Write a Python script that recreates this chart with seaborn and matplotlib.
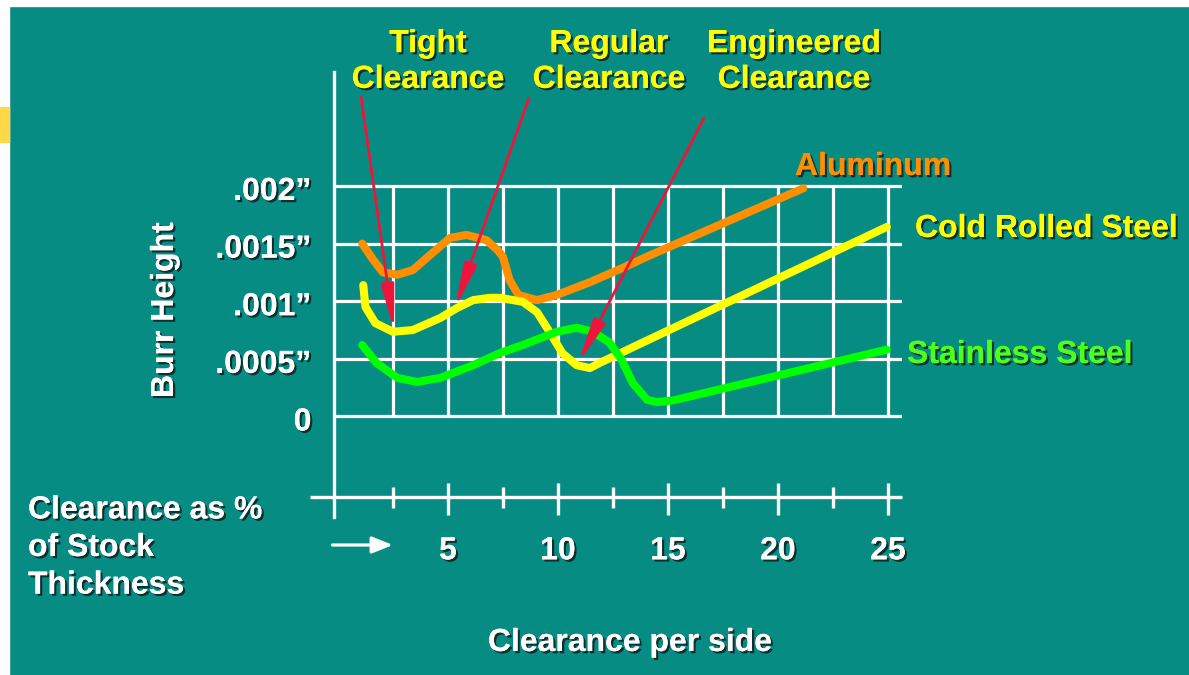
import numpy as np
import pandas as pd
import matplotlib
matplotlib.use("Agg")
import matplotlib.pyplot as plt
import matplotlib.transforms as mtransforms
from matplotlib import patheffects as pe
from matplotlib.patches import Rectangle
import seaborn as sns

# ---------------- data ----------------
al_x = [1.1, 1.6, 2.05, 2.7, 3.4, 4.3, 5.1, 5.85, 6.75, 7.25, 7.5, 7.8, 8.2, 9.05, 9.95, 11.45, 12.95, 14.2, 21.15]
al_y = [0.00150, 0.00136, 0.00125, 0.00123, 0.00127, 0.00142, 0.00155, 0.001575, 0.00153, 0.001445,
        0.001385, 0.001185, 0.001055, 0.00101, 0.001055, 0.001165, 0.00129, 0.00140, 0.00198]

crs_x = [1.15, 1.25, 1.7, 2.5, 3.4, 4.65, 5.4, 6.15, 6.9, 7.35, 8.4, 9.05, 9.65, 10.2, 10.85, 11.45, 11.9, 24.95]
crs_y = [0.00114, 0.00095, 0.00081, 0.000735, 0.00075, 0.000855, 0.00094, 0.00101, 0.00103, 0.00103,
         0.000995, 0.000905, 0.000725, 0.00055, 0.000445, 0.00042, 0.000465, 0.001645]

ss_x = [1.1, 1.75, 2.7, 3.6, 4.65, 6.15, 7.35, 8.4, 9.95, 10.85, 11.6, 12.35, 12.9, 13.4, 14.05, 14.5, 15.25, 24.95]
ss_y = [0.00062, 0.000465, 0.000335, 0.00030, 0.000335, 0.000445, 0.00055, 0.00062, 0.000735, 0.00077,
        0.000735, 0.00064, 0.00049, 0.00029, 0.000145, 0.000125, 0.00014, 0.00058]

materials = ["Aluminum", "Cold Rolled Steel", "Stainless Steel"]

y_ticks = [0, 0.0005, 0.001, 0.0015, 0.002]
y_tick_labels = ["0", ".0005\u201d", ".001\u201d", ".0015\u201d", ".002\u201d"]
x_grid = [2.5, 5, 7.5, 10, 12.5, 15, 17.5, 20, 22.5, 25]
x_major = [5, 10, 15, 20, 25]
x_minor = [2.5, 7.5, 12.5, 17.5, 22.5]
x_tick_labels = ["5", "10", "15", "20", "25"]

# arrows: (label, tail, tip)
arrow_labels = ["Tight\nClearance", "Regular\nClearance", "Engineered\nClearance"]
arrow_tails = [(1.05, 0.002772), (8.68, 0.002763), (16.64, 0.00259)]
arrow_tips = [(2.55, 0.000751), (5.32, 0.000941), (10.91, 0.000464)]

# ---------------- style ----------------
BG = "#078c84"
ORANGE = "#ff8f00"
YELLOW = "#ffff00"
GREEN = "#00ff00"
GREEN_TXT = "#4dff1a"
RED = "#f0143c"
WHITE = "white"

sns.set_style("white")
plt.rcParams["font.family"] = ["Liberation Sans", "DejaVu Sans"]
plt.rcParams["font.weight"] = "bold"

FS = 23
shadow = [pe.withSimplePatchShadow(offset=(1.6, -1.6), shadow_rgbFace="#102020", alpha=0.85), pe.Normal()]

W, H = 1189, 675
fig = plt.figure(figsize=(W / 100, H / 100), dpi=100, facecolor=BG)

# white frame strips like the reference screenshot
fig.patches.append(Rectangle((0, 1 - 6 / H), 1, 6 / H, transform=fig.transFigure, color="white", zorder=0))
fig.patches.append(Rectangle((0, 0), 9 / W, 1, transform=fig.transFigure, color="white", zorder=0))
fig.patches.append(Rectangle((0, 1 - 142 / H), 9 / W, 35 / H, transform=fig.transFigure, color="#ffd84a", zorder=1))

ax = fig.add_axes([334 / W, 1 - 517 / H, 568 / W, 445 / H])
ax.set_facecolor("none")
ax.set_xlim(-0.18, 25.64)
ax.set_ylim(-0.000872, 0.002989)
for s in ["top", "right", "bottom"]:
    ax.spines[s].set_visible(False)
ax.spines["left"].set_color(WHITE)
ax.spines["left"].set_linewidth(2.4)
ax.set_xticks([])
ax.set_yticks([])

# grid
for v in y_ticks:
    ax.axhline(v, color=WHITE, lw=2.3, zorder=1)
ax.vlines(x_grid, 0, 0.002, color=WHITE, lw=2.3, zorder=1)

# curves
df = pd.concat([
    pd.DataFrame({"x": al_x, "y": al_y, "material": materials[0]}),
    pd.DataFrame({"x": crs_x, "y": crs_y, "material": materials[1]}),
    pd.DataFrame({"x": ss_x, "y": ss_y, "material": materials[2]}),
])
sns.lineplot(data=df, x="x", y="y", hue="material", palette=[ORANGE, YELLOW, GREEN],
             sort=False, estimator=None, lw=5.8, legend=False, ax=ax, zorder=3,
             solid_capstyle="round", solid_joinstyle="round")
ax.set_xlabel("")
ax.set_ylabel("")

# bottom scale axis
AXIS_Y = -0.000698
ax.hlines(AXIS_Y, -1.27, 25.64, color=WHITE, lw=2.4, clip_on=False, zorder=2)
ax.vlines(x_major, AXIS_Y - 0.000155, AXIS_Y + 0.000122, color=WHITE, lw=2.4, clip_on=False, zorder=2)
ax.vlines(x_minor, AXIS_Y - 0.000095, AXIS_Y + 0.000087, color=WHITE, lw=2.4, clip_on=False, zorder=2)
LABEL_Y = -0.001170
for v, t in zip(x_major, x_tick_labels):
    ax.text(v, LABEL_Y, t, ha="center", va="center", color=WHITE, fontsize=FS,
            fontweight="bold", path_effects=shadow, clip_on=False)
ax.annotate("", xy=(2.5, -0.001115), xytext=(-0.25, -0.001115),
            arrowprops=dict(arrowstyle="-|>,head_length=0.7,head_width=0.28", color=WHITE, lw=2.3,
                            mutation_scale=18, shrinkA=0, shrinkB=0),
            annotation_clip=False)

# y tick labels
ytrans = mtransforms.offset_copy(ax.transData, fig=fig, x=0, y=-6, units="dots")
for v, t in zip(y_ticks, y_tick_labels):
    ax.text(-1.2, v, t, ha="right", va="center", color=WHITE, fontsize=FS, fontweight="bold",
            transform=ytrans, path_effects=shadow, clip_on=False)

# red pointer arrows
for tail, tip in zip(arrow_tails, arrow_tips):
    ax.annotate("", xy=tip, xytext=tail,
                arrowprops=dict(arrowstyle="-|>,head_length=1.5,head_width=0.22", color=RED, lw=2.0,
                                mutation_scale=18, shrinkA=0, shrinkB=0),
                annotation_clip=False, zorder=5)

# texts in figure pixel positions
def ftext(px, py, s, color=WHITE, ha="center", va="center", **kw):
    fig.text(px / W, 1 - py / H, s, color=color, ha=ha, va=va, fontsize=FS, fontweight="bold",
             path_effects=shadow, **kw)

for (px, lbl) in zip([428, 609, 794], arrow_labels):
    ftext(px, 62, lbl, color=YELLOW, linespacing=1.25, multialignment="center")

ftext(795, 167, materials[0], color=ORANGE, ha="left")
ftext(915, 229, materials[1], color=YELLOW, ha="left")
ftext(907, 355, materials[2], color=GREEN_TXT, ha="left")

ftext(165, 310, "Burr Height", rotation=90)
ftext(28, 548, "Clearance as %\nof Stock\nThickness", ha="left", linespacing=1.33, multialignment="left")
ftext(630, 643, "Clearance per side")

fig.savefig("out.png", dpi=100, facecolor=BG)
